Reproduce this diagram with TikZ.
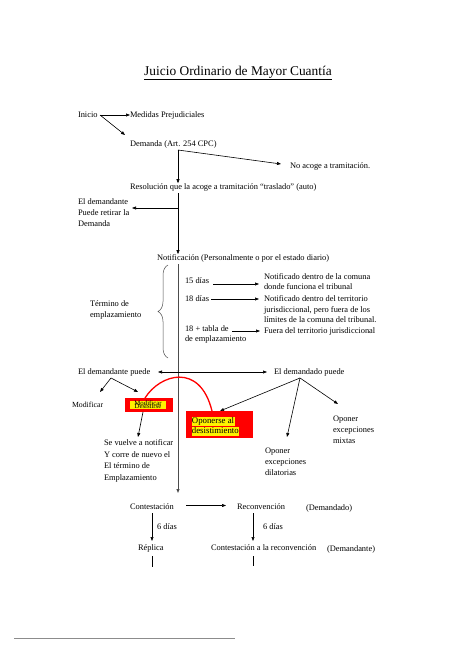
\documentclass[tikz,border=0pt]{standalone}
\usepackage{fontspec}
\setmainfont{Liberation Serif}
\usetikzlibrary{arrows.meta,decorations.pathreplacing}
\begin{document}
\begin{tikzpicture}[x=1pt,y=-1pt,
  every node/.style={font=\fontsize{8.4}{11}\selectfont, inner sep=0pt, outer sep=0pt},
  lbl/.style={anchor=west},
  blk/.style={anchor=north west, align=left},
  arr/.style={-{Triangle[length=4pt,width=3pt]}, line width=0.6pt},
  darr/.style={{Triangle[length=4pt,width=3pt]}-{Triangle[length=4pt,width=3pt]}, line width=0.6pt},
  plain/.style={line width=0.6pt},
  trunk/.style={line width=1pt, draw=black!70},
  redbox/.style={fill=red, draw=none},
  hl/.style={fill=yellow, inner sep=0.4pt, anchor=base west, text height=6.6pt, text depth=2.4pt, font=\fontsize{8.8}{10.5}\selectfont},
]
\useasboundingbox (0,0) rectangle (474,670);

% title
\node[font=\fontsize{13.4}{15}\selectfont] (title) at (238,73) {\underline{Juicio Ordinario de Mayor Cuantía}};

% top part
\node[lbl] (inicio) at (78,115) {Inicio};
\node[lbl] (medidas) at (130,115) {Medidas Prejudiciales};
\node[lbl] (demanda) at (130,144) {Demanda (Art. 254 CPC)};
\coordinate (ini) at (100,115);
\coordinate (dtip) at (125,135);
\draw[arr] (ini) -- (medidas.west);
\draw[arr] (ini) -- (dtip);

\node[lbl] (noacoge) at (290,166) {No acoge a tramitación.};
\node[lbl] (resol) at (130,187) {Resolución que la acoge a tramitación “traslado” (auto)};
\coordinate (t1) at (178,150);
\coordinate (natip) at (281,164);
\draw[arr] (t1) -- (t1 |- resol.north);
\draw[arr] (t1) -- (natip);

\node[blk] (retirar) at (78,199) {El demandante\\Puede retirar la\\Demanda};
\coordinate (t2) at (178,193);
\coordinate (t2b) at (178,208);
\coordinate (rettip) at (132,208);
\node[lbl] (notif) at (157,258) {Notificación (Personalmente o por el estado diario)};
\draw[arr] (t2) -- (t2 |- notif.north);
\draw[arr] (t2b) -- (rettip);

% plazos
\draw[decorate, decoration={brace, amplitude=10pt}, line width=0.5pt, black!70] (168,358) -- (168,265);
\node[blk] (termino) at (90,301) {Término de\\emplazamiento};

\node[lbl] (d15) at (185,280.5) {15 días};
\node[blk] (n15) at (264,273.5) {Notificado dentro de la comuna\\[-1pt]donde funciona el tribunal};
\coordinate (a15) at (213,284);
\coordinate (b15) at (259,284);
\draw[arr] (a15) -- (b15);

\node[lbl] (d18) at (185,299) {18 días};
\node[blk] (n18) at (264,296) {Notificado dentro del territorio\\[-0.5pt]jurisdiccional, pero fuera de los\\[-0.5pt]límites de la comuna del tribunal.};
\coordinate (a18) at (211,299);
\coordinate (b18) at (259,299);
\draw[arr] (a18) -- (b18);

\node[blk] (dtab) at (185,326) {18 + tabla de\\[-1pt]de emplazamiento};
\node[lbl] (ntab) at (264,331) {Fuera del territorio jurisdiccional};
\coordinate (atab) at (232,331);
\coordinate (btab) at (260,331);
\draw[arr] (atab) -- (btab);

% trunk down to contestacion
\node[lbl] (contest) at (130,507) {Contestación};
\coordinate (t3) at (178,264);
\coordinate (t3b) at (178,493);
\draw[trunk, -{Triangle[length=4pt,width=3pt]}] (t3) -- (t3b);

% demandante / demandado
\node[lbl] (dtepuede) at (78,372) {El demandante puede};
\node[lbl] (ddopuede) at (274,372) {El demandado puede};
\coordinate (dl) at (158,372);
\coordinate (dr) at (267,372);
\draw[darr] (dl) -- (dr);

\coordinate (dtes) at (111,378);
\coordinate (modtip) at (100,392);
\coordinate (rb1tip) at (138,392);
\draw[arr] (dtes) -- (modtip);
\draw[arr] (dtes) -- (rb1tip);
\node[lbl, font=\fontsize{7.8}{9}\selectfont] (modif) at (72,405) {Modificar};

% red box 1
\node[redbox, minimum width=48, minimum height=14] (rb1) at (149,405) {};
\node[fill=yellow, minimum width=36, minimum height=8] (hl1) at (148,405) {};
\node[font=\fontsize{6.8}{7}\selectfont] (mod2) at (148,403) {Modificar};
\node[font=\fontsize{6.8}{7}\selectfont] (des2) at (148,406.5) {Desistirse};

% red box 2
\node[redbox, minimum width=67, minimum height=27, anchor=north west] (rb2) at (186,411) {};
\node[hl] (op1) at (191.5,423.5) {Oponerse al};
\node[hl] (op2) at (191.5,433.5) {desistimiento};

% red curve
\draw[red, line width=1.3pt] (145,398) .. controls (160,374) and (200,362) .. (212,411);

\coordinate (rb1b) at (143,412);
\coordinate (svtip) at (138,437);
\draw[arr] (rb1b) -- (svtip);
\node[blk] (sevuelve) at (104,440) {Se vuelve a notificar\\[0.4pt]Y corre de nuevo el\\[0.4pt]El término de\\[0.4pt]Emplazamiento};

\coordinate (ddos) at (300,378);
\coordinate (rb2tip) at (220,411);
\coordinate (diltip) at (287,437);
\coordinate (mixtip) at (338,404);
\draw[arr] (ddos) -- (rb2tip);
\draw[arr] (ddos) -- (diltip);
\draw[arr] (ddos) -- (mixtip);
\node[blk] (mixtas) at (333,416) {Oponer\\excepciones\\mixtas};
\node[blk] (dilat) at (265,448) {Oponer\\excepciones\\dilatorias};

% bottom
\node[lbl] (reconv) at (237,507) {Reconvención};
\node[lbl] (demandado) at (306,508) {(Demandado)};
\coordinate (ca) at (186,505.5);
\coordinate (cb) at (226,505.5);
\draw[arr] (ca) -- (cb);

\node[lbl] (replica) at (138,548) {Réplica};
\node[lbl] (contrec) at (211,548) {Contestación a la reconvención};
\node[lbl] (demandante) at (327,549) {(Demandante)};
\coordinate (l1a) at (152,513);
\coordinate (l1b) at (152,541);
\draw[arr] (l1a) -- (l1b);
\node[lbl] (seis1) at (157,527) {6 días};
\coordinate (r1a) at (253,513);
\coordinate (r1b) at (253,541);
\draw[arr] (r1a) -- (r1b);
\node[lbl] (seis2) at (263,527) {6 días};

\coordinate (l2a) at (152,556);
\coordinate (l2b) at (152,567);
\draw[plain] (l2a) -- (l2b);
\coordinate (r2a) at (253,556);
\coordinate (r2b) at (253,566);
\draw[plain] (r2a) -- (r2b);

% footer rule
\coordinate (fa) at (14,638);
\coordinate (fb) at (235,638);
\draw[black!45, line width=0.8pt] (fa) -- (fb);
\end{tikzpicture}
\end{document}
